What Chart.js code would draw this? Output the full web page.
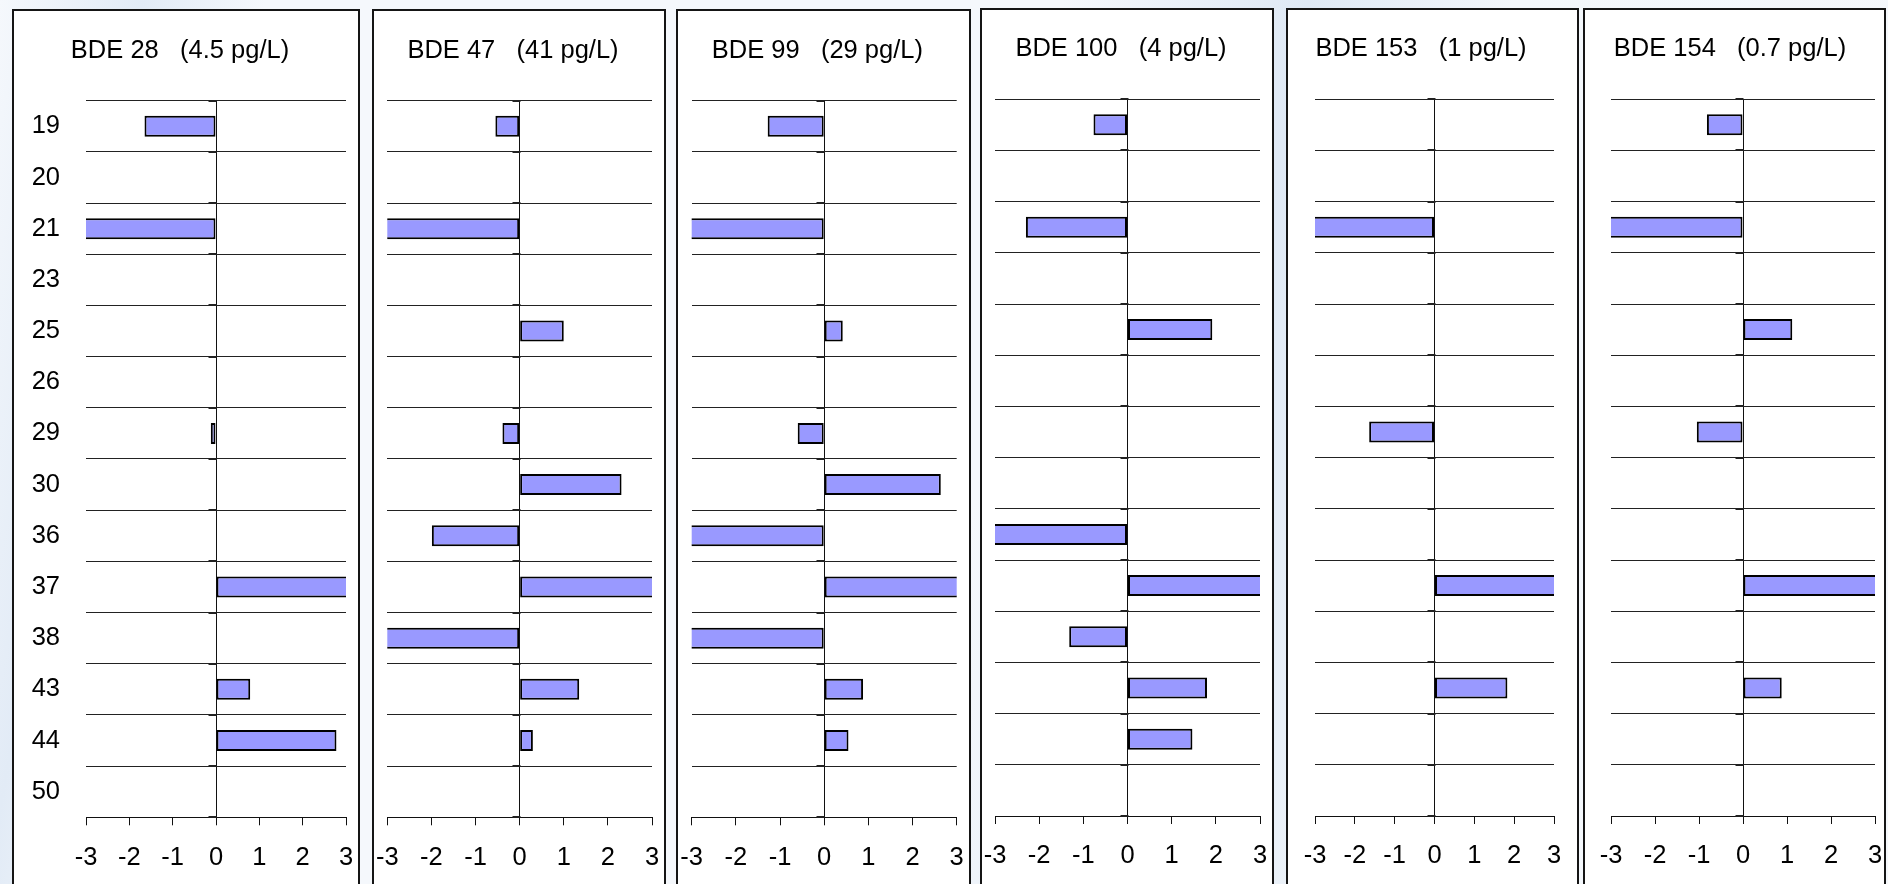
<!DOCTYPE html>
<html>
<head>
<meta charset="utf-8">
<title>BDE congeners</title>
<script src="https://cdn.jsdelivr.net/npm/chart.js@4.4.1/dist/chart.umd.min.js"></script>
<style>
  html, body { margin: 0; padding: 0; }
  body {
    width: 1888px; height: 884px; overflow: hidden; position: relative;
    background: linear-gradient(100deg, #f5f8fc 0%, #e2ebf6 7%, #f5f8fc 13%, #f5f8fc 52%, #dfe9f5 64%, #f3f7fb 74%, #f5f8fc 100%);
  }
  .panel {
    position: absolute; box-sizing: border-box;
    border: 2px solid #151515; border-bottom: none; background: #fff;
  }
  .panel canvas { position: absolute; left: 0; top: 0; }
</style>
</head>
<body>
<script>
/* ─── Data ─────────────────────────────────────────────────────────────── */
const categories = ['19', '20', '21', '23', '25', '26', '29', '30', '36', '37', '38', '43', '44', '50'];
const titles = [
  'BDE 28   (4.5 pg/L)', 'BDE 47   (41 pg/L)', 'BDE 99   (29 pg/L)',
  'BDE 100   (4 pg/L)', 'BDE 153   (1 pg/L)', 'BDE 154   (0.7 pg/L)',
];
const xTicksMin = -3;
const xTicksMax = 3;

// values past ±3 run off the axis in the original, so they get clipped
const bde28  = [-1.65, null, -3.6, null, null, null, -0.12, null,  null, 3.6, null, 0.79, 2.78, null];
const bde47  = [-0.55, null, -3.6, null, 1.00, null, -0.39, 2.31, -1.99, 3.6, -3.6, 1.35, 0.30, null];
const bde99  = [-1.28, null, -3.6, null, 0.42, null, -0.60, 2.64, -3.6,  3.6, -3.6, 0.88, 0.55, null];
const bde100 = [-0.77, null, -2.30, null, 1.92, null, null, null, -3.6,  3.6, -1.32, 1.80, 1.47, null];
const bde153 = [null,  null, -3.6, null, null, null, -1.64, null,  null, 3.6, null, 1.83, null, null];
const bde154 = [-0.82, null, -3.6, null, 1.12, null, -1.05, null,  null, 3.6, null, 0.88, null, null];
const series = [bde28, bde47, bde99, bde100, bde153, bde154];

/* ─── Layout (page px) ─────────────────────────────────────────────────── */
const FRAMES = [
  { left: 12,   right: 360,  top: 9, plotL: 86,    plotR: 346,   plotT: 100.7, axisY: 817.3, titleY: 50.5 },
  { left: 372,  right: 666,  top: 9, plotL: 387.3, plotR: 652,   plotT: 100.7, axisY: 817.3, titleY: 50.5 },
  { left: 676,  right: 971,  top: 9, plotL: 691.7, plotR: 956.7, plotT: 100.7, axisY: 817.3, titleY: 50.5 },
  { left: 980,  right: 1274, top: 8, plotL: 995,   plotR: 1260,  plotT: 99.2,  axisY: 816,   titleY: 49.3 },
  { left: 1286, right: 1579, top: 8, plotL: 1315,  plotR: 1554,  plotT: 99.2,  axisY: 816,   titleY: 49.3 },
  { left: 1583, right: 1886, top: 8, plotL: 1611,  plotR: 1875,  plotT: 99.2,  axisY: 816,   titleY: 49.3 },
];
const BORDER = 2;
const FONT = 25.5;
const LINE_H = FONT * 1.2;

Chart.defaults.font.family = "'Liberation Sans', Arial, Helvetica, sans-serif";
Chart.defaults.color = '#000';

// short marks where the category gridlines meet the zero line
const zeroTicks = {
  id: 'zeroTicks',
  afterDatasetsDraw(chart) {
    const { ctx, scales: { x, y } } = chart;
    const x0 = Math.round(x.getPixelForValue(0)) + 0.5;
    const step = (y.bottom - y.top) / categories.length;
    ctx.save();
    ctx.strokeStyle = '#222';
    ctx.lineWidth = 2;
    ctx.beginPath();
    for (let k = 0; k <= categories.length; k++) {
      const yy = Math.round(y.top + k * step);
      ctx.moveTo(x0 - 8, yy);
      ctx.lineTo(x0, yy);
    }
    ctx.stroke();
    ctx.restore();
  },
};

function buildPanel(i) {
  const f = FRAMES[i];
  const div = document.createElement('div');
  div.className = 'panel';
  div.style.left = f.left + 'px';
  div.style.top = f.top + 'px';
  div.style.width = (f.right - f.left) + 'px';
  div.style.height = (884 - f.top + 20) + 'px';
  document.body.appendChild(div);

  const cvs = document.createElement('canvas');
  const cLeft = f.left + BORDER, cTop = f.top + BORDER;
  cvs.width = f.right - f.left - 2 * BORDER;
  cvs.height = 884 - cTop;
  div.appendChild(cvs);

  const yW = f.plotL - cLeft;
  const padR = (f.right - BORDER) - f.plotR;
  const tTop = f.titleY - cTop - LINE_H / 2;
  const tBottom = (f.plotT - cTop) - tTop - LINE_H;
  const xH = cvs.height - (f.axisY - cTop);

  return new Chart(cvs, {
    type: 'bar',
    data: {
      labels: categories,
      datasets: [{
        data: series[i],
        backgroundColor: '#9999ff',
        borderColor: '#000',
        borderWidth: 2,
        borderSkipped: false,
        barPercentage: 0.41,
        categoryPercentage: 1,
      }],
    },
    plugins: [zeroTicks],
    options: {
      indexAxis: 'y',
      responsive: false,
      animation: false,
      events: [],
      layout: { padding: { left: 0, right: padR, top: 0, bottom: 0 } },
      plugins: {
        legend: { display: false },
        tooltip: { enabled: false },
        title: {
          display: true, text: titles[i], color: '#000',
          font: { size: FONT, weight: 'normal' },
          padding: { top: tTop, bottom: tBottom },
        },
      },
      scales: {
        x: {
          min: xTicksMin, max: xTicksMax,
          ticks: { stepSize: 1, color: '#000', font: { size: FONT }, padding: 17, maxRotation: 0, autoSkip: false },
          grid: {
            color: c => (c.tick && c.tick.value === 0) ? '#111' : 'rgba(0,0,0,0)',
            tickColor: '#111', tickLength: 8, lineWidth: 1,
          },
          border: { color: '#111', width: 1 },
          afterFit: s => { s.height = xH; s.paddingLeft = 0; s.paddingRight = 0; },
        },
        y: {
          ticks: { display: i === 0, color: '#000', font: { size: FONT }, padding: 26 },
          grid: { color: '#222', lineWidth: 1, drawTicks: false },
          border: { display: false },
          afterFit: s => { s.width = yW; },
        },
      },
    },
  });
}

FRAMES.forEach((_, i) => buildPanel(i));
</script>
</body>
</html>
